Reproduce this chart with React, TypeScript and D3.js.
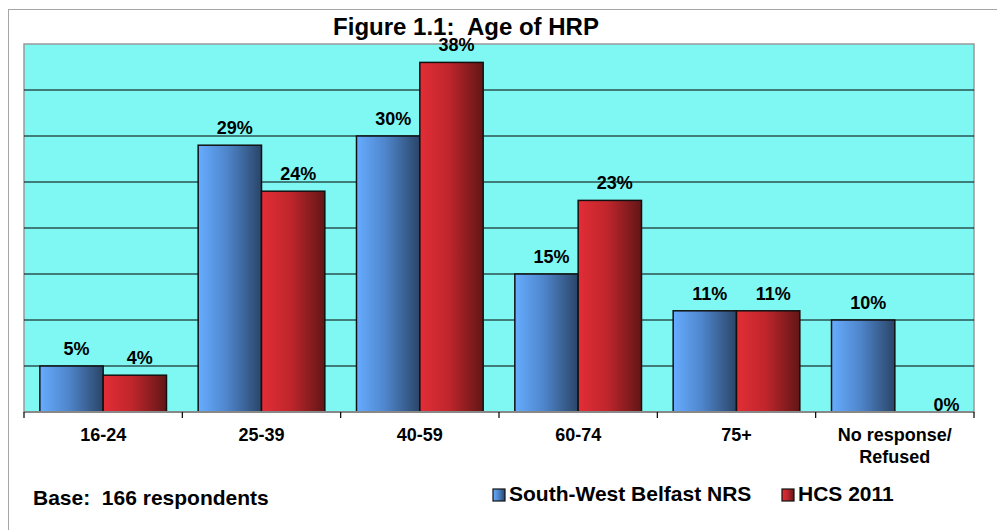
import React from "react";
import * as d3 from "d3";

const categories: string[][] = [["16-24"], ["25-39"], ["40-59"], ["60-74"], ["75+"], ["No response/", "Refused"]];
const seriesNames = ["South-West Belfast NRS", "HCS 2011"];
const swBelfast = [5, 29, 30, 15, 11, 10];
const hcs2011 = [4, 24, 38, 23, 11, 0];
const yTicks = [0, 5, 10, 15, 20, 25, 30, 35, 40];
const title = "Figure 1.1:  Age of HRP";
const baseNote = "Base:  166 respondents";

const W = 997;
const H = 530;
const plot = { left: 24, top: 44, right: 974, bottom: 412 };
const FONT = "'Liberation Sans', Arial, Helvetica, sans-serif";
const gradIds = ["gradBlue", "gradRed"];

export default function App() {
  const keys = categories.map((c) => c.join(" "));
  const x0 = d3.scaleBand<string>().domain(keys).range([plot.left, plot.right]).padding(0);
  const gw = x0.bandwidth();
  const x1 = d3
    .scaleBand<number>()
    .domain([0, 1])
    .range([gw * 0.1, gw * 0.9])
    .padding(0);
  const y = d3.scaleLinear().domain([0, 40]).range([plot.bottom, plot.top]);
  const series = [swBelfast, hcs2011];

  return (
    <svg
      width={W}
      height={H}
      style={{ position: "absolute", left: 0, top: 0, background: "#fff" }}
      fontFamily={FONT}
    >
      <defs>
        <linearGradient id="gradBlue" x1="0" y1="0" x2="1" y2="0">
          <stop offset="0" stopColor="#66acff" />
          <stop offset="0.45" stopColor="#4f86cc" />
          <stop offset="1" stopColor="#2a4568" />
        </linearGradient>
        <linearGradient id="gradRed" x1="0" y1="0" x2="1" y2="0">
          <stop offset="0" stopColor="#e32d36" />
          <stop offset="0.45" stopColor="#c0262c" />
          <stop offset="1" stopColor="#611616" />
        </linearGradient>
      </defs>

      {/* chart area border */}
      <rect x={8.5} y={9.5} width={1000} height={600} fill="#fff" stroke="#a6a6a6" strokeWidth={1} />

      {/* plot area */}
      <rect
        x={plot.left}
        y={plot.top}
        width={plot.right - plot.left}
        height={plot.bottom - plot.top}
        fill="#7ff8f4"
        stroke="#999"
        strokeWidth={1.5}
      />
      {yTicks
        .filter((t) => t > 0 && t < 40)
        .map((t) => (
          <line key={t} x1={plot.left} x2={plot.right} y1={y(t)} y2={y(t)} stroke="#000" strokeWidth={1} />
        ))}

      {/* bars */}
      {keys.map((k, i) => (
        <g key={k} transform={`translate(${x0(k)},0)`}>
          {series.map((s, si) =>
            s[i] > 0 ? (
              <rect
                key={si}
                x={x1(si)}
                y={y(s[i])}
                width={x1.bandwidth()}
                height={y(0) - y(s[i])}
                fill={`url(#${gradIds[si]})`}
                stroke="#111"
                strokeWidth={1.5}
              />
            ) : null
          )}
        </g>
      ))}

      {/* axis line and ticks */}
      <line x1={plot.left} x2={plot.right} y1={plot.bottom} y2={plot.bottom} stroke="#888" strokeWidth={2} />
      {[...keys.map((k) => x0(k) as number), plot.right].map((tx, i) => (
        <line key={i} x1={tx} x2={tx} y1={plot.bottom} y2={plot.bottom + 6} stroke="#000" strokeWidth={1.2} />
      ))}

      {/* data labels */}
      {keys.map((k, i) =>
        series.map((s, si) => {
          const cx = (x0(k) as number) + (x1(si) as number) + x1.bandwidth() / 2 + 5;
          const ty = s[i] > 0 ? y(s[i]) - 11 : y(0) - 1;
          return (
            <text
              key={`${k}-${si}`}
              x={s[i] > 0 ? cx : cx + 15}
              y={ty}
              textAnchor="middle"
              fontSize={18}
              fontWeight="bold"
              fill="#000"
            >
              {`${s[i]}%`}
            </text>
          );
        })
      )}

      {/* category labels */}
      {categories.map((lines, i) => (
        <text
          key={keys[i]}
          x={(x0(keys[i]) as number) + gw / 2}
          y={441}
          textAnchor="middle"
          fontSize={18}
          fontWeight="bold"
        >
          {lines.map((ln, li) => (
            <tspan key={li} x={(x0(keys[i]) as number) + gw / 2} dy={li === 0 ? 0 : 21.5}>
              {ln}
            </tspan>
          ))}
        </text>
      ))}

      {/* title */}
      <text x={466} y={35} textAnchor="middle" fontSize={24} fontWeight="bold" style={{ whiteSpace: "pre" }}>
        {title}
      </text>

      {/* base note */}
      <text x={33} y={505} fontSize={21} fontWeight="bold" style={{ whiteSpace: "pre" }}>
        {baseNote}
      </text>

      {/* legend */}
      {seriesNames.map((name, si) => {
        const lx = si === 0 ? 493 : 782;
        return (
          <g key={name}>
            <rect x={lx} y={489} width={12} height={12} fill={`url(#${gradIds[si]})`} stroke="#111" strokeWidth={1.2} />
            <text x={lx + 16} y={501} fontSize={21} fontWeight="bold">
              {name}
            </text>
          </g>
        );
      })}
    </svg>
  );
}
